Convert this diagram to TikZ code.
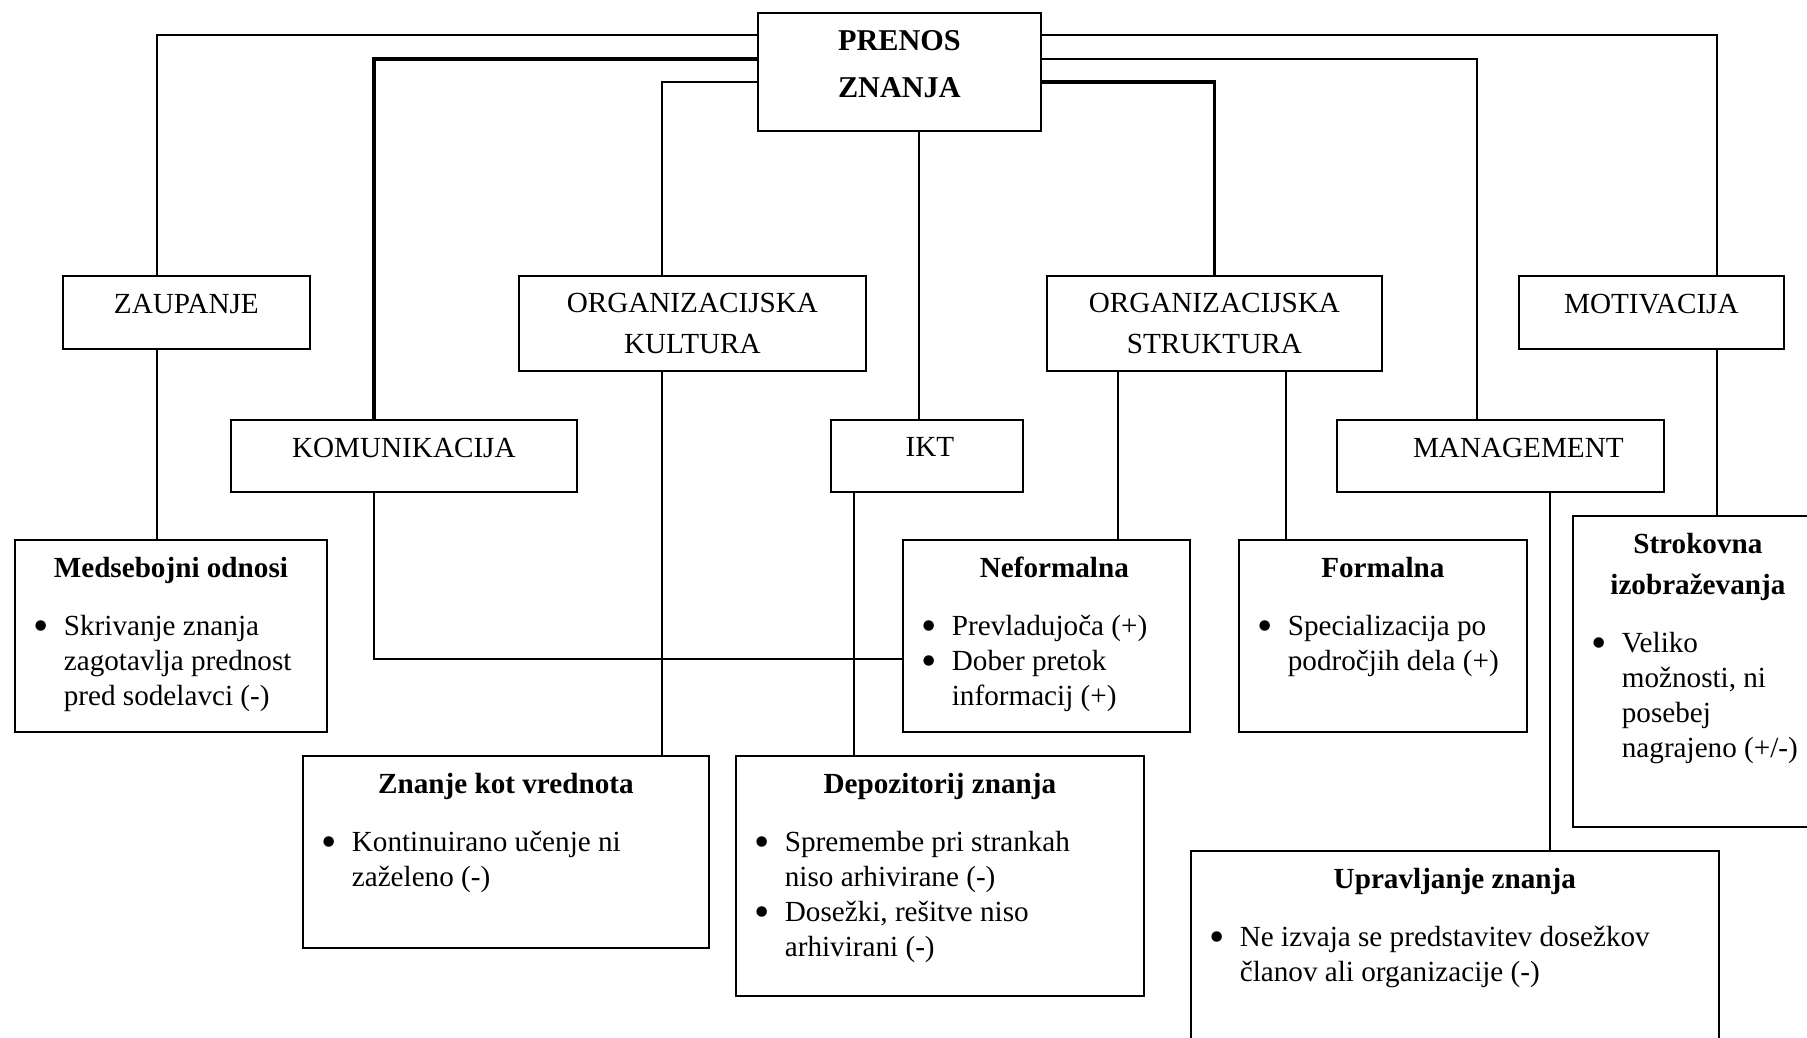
\documentclass[tikz,border=0pt]{standalone}
\usepackage{fontspec}
\setmainfont{Liberation Serif}
\usepackage{tikz}
\usetikzlibrary{calc}

\hyphenpenalty=10000
\newcommand{\boxtitle}[1]{{\centering\bfseries\baselineskip=4.1mm\rule{0pt}{3.8mm}#1\par}\vspace{2.3mm}}
\newcommand{\boxitem}[1]{\par\hangindent=4.9mm\hangafter=1\noindent\makebox[4.9mm][l]{\hspace{1.9mm}\raisebox{-0.5mm}{\scalebox{1.5}{\textbullet}}}#1\par}
\newcommand{\boxtext}[3]{\parbox[t][#2][t]{#1}{#3}}

\tikzset{
  headbox/.style={draw, line width=0.5pt, inner sep=0pt, anchor=north west, align=center},
  oneline/.style={headbox, text depth=1.7mm},
  infobox/.style={draw, line width=0.5pt, inner sep=0pt, anchor=north west},
  thinline/.style={line width=0.45pt},
  midline/.style={line width=0.6pt},
  thickline/.style={line width=0.9pt}
}

\begin{document}
\begin{tikzpicture}[x=0.1mm, y=-0.1mm, font=\fontsize{8.3pt}{3.5mm}\selectfont]
    \useasboundingbox (0,0) rectangle (1807,1037);

    \node[headbox, minimum width=28.3mm, minimum height=11.8mm,
          font=\fontsize{8.6pt}{4.7mm}\selectfont\bfseries] (prenos) at (757,12) {PRENOS\\ZNANJA\rule[-1.5mm]{0pt}{0pt}};

    \node[oneline, minimum width=24.7mm, minimum height=7.3mm] (zaupanje) at (62,275) {ZAUPANJE};
    \node[headbox, minimum width=34.7mm, minimum height=9.5mm,
          font=\fontsize{8.3pt}{4.1mm}\selectfont] (kultura) at (518,275) {ORGANIZACIJSKA\\KULTURA};
    \node[headbox, minimum width=33.5mm, minimum height=9.5mm,
          font=\fontsize{8.3pt}{4.1mm}\selectfont] (struktura) at (1046,275) {ORGANIZACIJSKA\\STRUKTURA};
    \node[oneline, minimum width=26.5mm, minimum height=7.3mm] (motivacija) at (1518,275) {MOTIVACIJA};
    \node[oneline, minimum width=34.6mm, minimum height=7.2mm] (komunikacija) at (230,419) {KOMUNIKACIJA};
    \node[oneline, minimum width=19.2mm, minimum height=7.2mm] (ikt) at (830,419) {\hspace{0.6mm}IKT};
    \node[oneline, minimum width=32.7mm, minimum height=7.2mm] (management) at (1336,419) {\hspace{3.6mm}MANAGEMENT};

    \node[infobox] (medsebojni) at (14,539) {\boxtext{31.2mm}{19.2mm}{\boxtitle{Medsebojni odnosi}%
        \boxitem{Skrivanje znanja\\zagotavlja prednost\\pred sodelavci (-)}}};
    \node[infobox] (neformalna) at (902,539) {\boxtext{28.7mm}{19.2mm}{\boxtitle{\hspace{1.6mm}Neformalna}%
        \boxitem{Prevladujoča (+)}\boxitem{Dober pretok\\informacij (+)}}};
    \node[infobox] (formalna) at (1238,539) {\boxtext{28.8mm}{19.2mm}{\boxtitle{Formalna}%
        \boxitem{Specializacija po\\področjih dela (+)}}};
    \node[infobox] (strokovna) at (1572,515) {\boxtext{25mm}{31.1mm}{\boxtitle{Strokovna\\izobraževanja}%
        \boxitem{Veliko\\možnosti, ni\\posebej\\nagrajeno (+/-)}}};
    \node[infobox] (znanje) at (302,755) {\boxtext{40.6mm}{19.2mm}{\boxtitle{Znanje kot vrednota}%
        \boxitem{Kontinuirano učenje ni\\zaželeno (-)}}};
    \node[infobox] (depozitorij) at (735,755) {\boxtext{40.8mm}{24mm}{\boxtitle{Depozitorij znanja\hspace{2mm}}%
        \boxitem{Spremembe pri strankah\\niso arhivirane (-)}\boxitem{Dosežki, rešitve niso\\arhivirani (-)}}};
    \node[infobox] (upravljanje) at (1190,850) {\boxtext{52.8mm}{23mm}{\boxtitle{Upravljanje znanja}%
        \boxitem{Ne izvaja se predstavitev dosežkov\\članov ali organizacije (-)}}};

    \draw[thinline] ($(prenos.north west)+(0,23)$) -| ($(zaupanje.north west)+(95,0)$);
    \draw[thickline] ($(prenos.north west)+(0,47)$) -| ($(komunikacija.north west)+(144,0)$);
    \draw[thinline] ($(prenos.north west)+(0,70)$) -| ($(kultura.north west)+(144,0)$);
    \draw[thinline] ($(ikt.north west)+(89,0)$) coordinate (iktin) -- (iktin |- prenos.south);
    \draw[thinline] ($(prenos.north east)+(0,23)$) -| ($(motivacija.north west)+(199,0)$);
    \draw[thinline] ($(prenos.north east)+(0,47)$) -| ($(management.north west)+(141,0)$);
    \draw[thickline] ($(prenos.north east)+(0,70)$) -| (struktura.north);

    \draw[thinline] ($(zaupanje.south west)+(95,0)$) -- ($(medsebojni.north west)+(143,0)$);
    \draw[midline] ($(komunikacija.south west)+(144,0)$) |- ($(neformalna.north west)+(0,120)$);
    \draw[thinline] ($(kultura.south west)+(144,0)$) -- ($(znanje.north west)+(360,0)$);
    \draw[thinline] ($(ikt.south west)+(24,0)$) -- ($(depozitorij.north west)+(119,0)$);
    \draw[thinline] ($(struktura.south west)+(72,0)$) -- ($(neformalna.north west)+(216,0)$);
    \draw[thinline] ($(struktura.south west)+(240,0)$) -- ($(formalna.north west)+(48,0)$);
    \draw[thinline] ($(management.south west)+(214,0)$) -- ($(upravljanje.north west)+(360,0)$);
    \draw[thinline] ($(motivacija.south west)+(199,0)$) -- ($(strokovna.north west)+(145,0)$);
\end{tikzpicture}
\end{document}
